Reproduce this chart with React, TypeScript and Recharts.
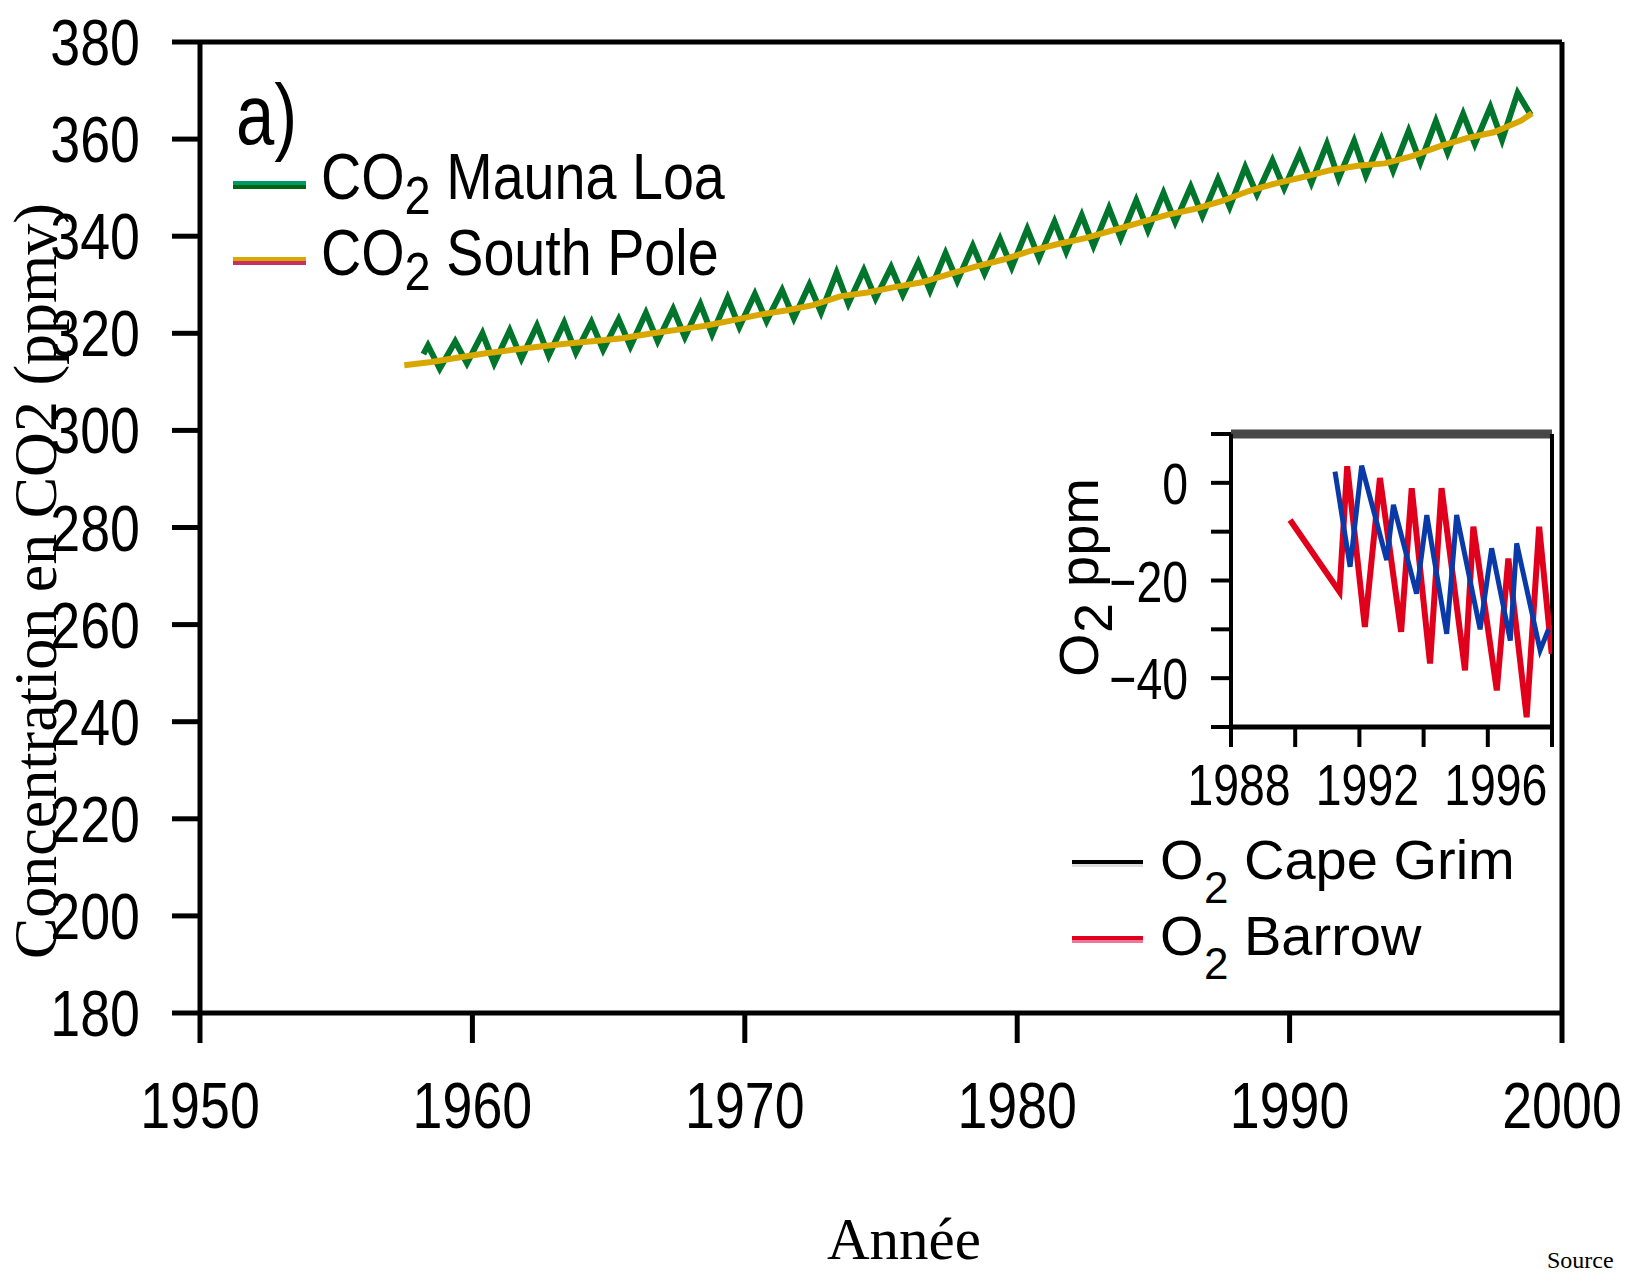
import React from 'react';
import { LineChart, Line, XAxis, YAxis, ReferenceLine, Legend } from 'recharts';

// main panel axes
const mainYearTicks = [1950, 1960, 1970, 1980, 1990, 2000];
const mainCO2Ticks = [180, 200, 220, 240, 260, 280, 300, 320, 340, 360, 380];

// CO2 Mauna Loa, seasonal highs and lows (ppmv)
const maunaLoaYear = [
  1958.2, 1958.37, 1958.8, 1959.37, 1959.8, 1960.37, 1960.8, 1961.37, 1961.8, 1962.37, 1962.8,
  1963.37, 1963.8, 1964.37, 1964.8, 1965.37, 1965.8, 1966.37, 1966.8, 1967.37, 1967.8,
  1968.37, 1968.8, 1969.37, 1969.8, 1970.37, 1970.8, 1971.37, 1971.8, 1972.37, 1972.8,
  1973.37, 1973.8, 1974.37, 1974.8, 1975.37, 1975.8, 1976.37, 1976.8, 1977.37, 1977.8,
  1978.37, 1978.8, 1979.37, 1979.8, 1980.37, 1980.8, 1981.37, 1981.8, 1982.37, 1982.8,
  1983.37, 1983.8, 1984.37, 1984.8, 1985.37, 1985.8, 1986.37, 1986.8, 1987.37, 1987.8,
  1988.37, 1988.8, 1989.37, 1989.8, 1990.37, 1990.8, 1991.37, 1991.8, 1992.37, 1992.8,
  1993.37, 1993.8, 1994.37, 1994.8, 1995.37, 1995.8, 1996.37, 1996.8, 1997.37, 1997.8,
  1998.37, 1998.85,
];
const maunaLoaCO2 = [
  315.7, 317.5, 312.7, 318.3, 313.8, 320.0, 313.8, 320.6, 314.8, 321.6, 315.4,
  322.2, 316.0, 322.3, 316.6, 322.9, 317.3, 324.2, 318.4, 325.0, 319.2,
  326.0, 319.8, 327.3, 321.3, 328.1, 322.5, 328.9, 323.1, 330.0, 324.3,
  332.5, 326.1, 333.0, 327.2, 333.6, 327.9, 334.6, 328.8, 336.5, 330.8,
  338.0, 332.3, 339.4, 333.6, 341.5, 335.5, 343.0, 336.8, 344.3, 338.0,
  345.8, 339.6, 347.4, 341.2, 348.9, 342.9, 350.2, 344.2, 351.8, 346.0,
  354.2, 348.6, 355.6, 349.9, 357.1, 351.0, 359.0, 351.9, 359.6, 352.5,
  360.0, 353.5, 361.7, 355.2, 363.7, 357.2, 365.2, 359.0, 366.6, 359.8,
  369.5, 365.0,
];

// CO2 South Pole (ppmv)
const southPoleYear = [
  1957.5, 1958.5, 1959.5, 1960.5, 1961.5, 1962.5, 1963.5, 1964.5, 1965.5, 1966.5, 1967.5,
  1968.5, 1969.5, 1970.5, 1971.5, 1972.5, 1973.5, 1974.5, 1975.5, 1976.5, 1977.5,
  1978.5, 1979.5, 1980.5, 1981.5, 1982.5, 1983.5, 1984.5, 1985.5, 1986.5, 1987.5,
  1988.5, 1989.5, 1990.5, 1991.5, 1992.5, 1993.5, 1994.5, 1995.5, 1996.5, 1997.5,
  1998.5, 1998.9,
];
const southPoleCO2 = [
  313.4, 314.1, 315.0, 315.9, 316.6, 317.3, 317.9, 318.4, 319.0, 319.9, 320.7,
  321.5, 322.6, 323.8, 324.7, 325.8, 327.6, 328.4, 329.5, 330.5, 332.2,
  333.8, 335.2, 337.0, 338.4, 339.6, 341.2, 342.8, 344.4, 345.6, 347.2,
  349.3, 350.9, 352.2, 353.6, 354.5, 355.0, 356.5, 358.5, 360.2, 361.4,
  363.8, 365.3,
];

// inset axes
const insetYearTicks = [1988, 1990, 1992, 1994, 1996, 1998];
const insetYearLabels = [1988, 1992, 1996];
const insetO2Ticks = [-50, -40, -30, -20, -10, 0, 10];
const insetO2Labels = [-40, -20, 0];

// O2 Cape Grim (ppm)
const capeGrimYear = [
  1991.24, 1991.71, 1992.07, 1992.85, 1993.06, 1993.78, 1994.1, 1994.72,
  1995.03, 1995.76, 1996.12, 1996.7, 1996.9, 1997.63, 1997.89,
];
const capeGrimO2 = [
  2.3, -17.2, 3.5, -15.8, -4.5, -22.7, -6.6, -30.9,
  -6.6, -30.0, -13.4, -32.3, -12.4, -34.3, -30.0,
];

// O2 Barrow (ppm)
const barrowYear = [
  1989.84, 1991.38, 1991.62, 1992.17, 1992.64, 1993.3, 1993.63, 1994.2,
  1994.56, 1995.29, 1995.55, 1996.28, 1996.64, 1997.21, 1997.6, 1997.99,
];
const barrowO2 = [
  -7.6, -22.3, 3.4, -29.5, 1.0, -30.5, -1.1, -37.0,
  -1.1, -38.4, -9.0, -42.5, -15.5, -48.0, -9.0, -35.0,
];

const SANS = '"Liberation Sans", Arial, Helvetica, sans-serif';
const SERIF = '"Liberation Serif", "Times New Roman", serif';

const zip = (xs: number[], ys: number[]) => xs.map((t, i) => ({ t, v: ys[i] }));

const maunaLoa = zip(maunaLoaYear, maunaLoaCO2);
const southPole = zip(southPoleYear, southPoleCO2);
const capeGrim = zip(capeGrimYear, capeGrimO2);
const barrow = zip(barrowYear, barrowO2);

const mainSeries = [
  { name: 'Mauna Loa', color: '#009966', edge: '#006414' },
  { name: 'South Pole', color: '#d9a800', edge: '#c8305f' },
];
const insetSeries = [
  { name: 'Cape Grim', color: '#000000', edge: '#dddddd' },
  { name: 'Barrow', color: '#e0001b', edge: '#ee7799' },
];

type TickOpts = { size: number; sx: number; anchor: 'start' | 'middle' | 'end'; dx: number; dy: number; show?: number[] };

// narrow helvetica-like tick labels
const squashTick = (o: TickOpts) => (props: any) => {
  const { x, y, payload } = props;
  const v = payload.value;
  if (o.show && !o.show.includes(v)) return <g />;
  const label = v < 0 ? `\u2212${-v}` : `${v}`;
  return (
    <g transform={`translate(${x + o.dx},${y + o.dy})`}>
      <text transform={`scale(${o.sx},1)`} textAnchor={o.anchor} fontSize={o.size} fontFamily={SANS} fill="#000">
        {label}
      </text>
    </g>
  );
};

// legend box of the main panel sits at page (0, 40)
const MainLegend = () => (
  <svg width={780} height={300} style={{ display: 'block' }}>
    <text transform="translate(236,104) scale(0.8,1)" fontFamily={SANS} fontSize={86} fill="#000">a)</text>
    {mainSeries.map((s, i) => (
      <g key={s.name} transform={`translate(0,${i * 76})`}>
        <rect x={233} y={141} width={73} height={4} fill={s.color} />
        <rect x={233} y={145} width={73} height={4} fill={s.edge} />
        <g transform="translate(321,159) scale(0.87,1)">
          <text x={0} y={0} fontFamily={SANS} fontSize={64} fill="#000">CO</text>
          <text x={96} y={15} fontFamily={SANS} fontSize={54} fill="#000">2</text>
          <text x={144} y={0} fontFamily={SANS} fontSize={64} fill="#000">{s.name}</text>
        </g>
      </g>
    ))}
  </svg>
);

// legend box of the inset sits at page (1040, 800)
const InsetLegend = () => (
  <svg width={560} height={240} style={{ display: 'block' }}>
    {insetSeries.map((s, i) => (
      <g key={s.name} transform={`translate(0,${i * 76})`}>
        <rect x={32} y={60} width={71} height={4} fill={s.color} />
        <rect x={32} y={64} width={71} height={3} fill={s.edge} />
        <text x={120} y={79} fontFamily={SANS} fontSize={56} fill="#000">O</text>
        <text x={164} y={103} fontFamily={SANS} fontSize={44} fill="#000">2</text>
        <text x={204} y={79} fontFamily={SANS} fontSize={56} fill="#000">{s.name}</text>
      </g>
    ))}
  </svg>
);

const black5 = { stroke: '#000', strokeWidth: 5 };
const black4 = { stroke: '#000', strokeWidth: 4 };

export default function App() {
  return (
    <div style={{ position: 'absolute', left: 0, top: 0, width: 1626, height: 1274, overflow: 'hidden', background: '#fff' }}>
      <div style={{ position: 'absolute', left: 0, top: 0 }}>
        <LineChart width={1626} height={1274} margin={{ top: 42, right: 64, bottom: 161, left: 0 }}>
          <XAxis
            dataKey="t"
            type="number"
            domain={[1950, 2000]}
            ticks={mainYearTicks}
            interval={0}
            allowDataOverflow
            height={100}
            tickSize={30}
            tickMargin={8}
            axisLine={black5}
            tickLine={black5}
            tick={squashTick({ size: 64, sx: 0.84, anchor: 'middle', dx: 0, dy: 77 })}
          />
          <YAxis
            type="number"
            domain={[180, 380]}
            ticks={mainCO2Ticks}
            interval={0}
            allowDataOverflow
            width={200}
            tickSize={28}
            tickMargin={32}
            axisLine={black5}
            tickLine={black5}
            tick={squashTick({ size: 64, sx: 0.84, anchor: 'end', dx: 0, dy: 23 })}
          />
          <ReferenceLine y={380} stroke="#000" strokeWidth={5} />
          <ReferenceLine x={2000} stroke="#000" strokeWidth={5} />
          <Line data={maunaLoa} dataKey="v" name="CO2 Mauna Loa" type="linear" stroke="#00752b" strokeWidth={6} dot={false} activeDot={false} isAnimationActive={false} />
          <Line data={southPole} dataKey="v" name="CO2 South Pole" type="linear" stroke="#d9a800" strokeWidth={6} dot={false} activeDot={false} isAnimationActive={false} />
          <Legend
            layout="vertical"
            align="center"
            verticalAlign="middle"
            wrapperStyle={{ position: 'absolute', left: 0, top: 40, width: 780, height: 300 }}
            content={() => <MainLegend />}
          />
        </LineChart>
      </div>

      <div style={{ position: 'absolute', left: 1040, top: 400 }}>
        <LineChart width={560} height={660} margin={{ top: 34, right: 48, bottom: 273, left: 0 }}>
          <XAxis
            dataKey="t"
            type="number"
            domain={[1988, 1998]}
            ticks={insetYearTicks}
            interval={0}
            allowDataOverflow
            height={60}
            tickSize={20}
            tickMargin={8}
            axisLine={black5}
            tickLine={black4}
            tick={squashTick({ size: 58, sx: 0.8, anchor: 'middle', dx: 8, dy: 50, show: insetYearLabels })}
          />
          <YAxis
            type="number"
            domain={[-50, 10]}
            ticks={insetO2Ticks}
            interval={0}
            allowDataOverflow
            width={191}
            tickSize={20}
            tickMargin={23}
            axisLine={black4}
            tickLine={black4}
            tick={squashTick({ size: 58, sx: 0.8, anchor: 'end', dx: 0, dy: 21, show: insetO2Labels })}
          />
          <ReferenceLine y={10} stroke="#474747" strokeWidth={9} />
          <ReferenceLine x={1998} stroke="#000" strokeWidth={4} />
          <Line data={barrow} dataKey="v" name="O2 Barrow" type="linear" stroke="#e0001b" strokeWidth={6} dot={false} activeDot={false} isAnimationActive={false} />
          <Line data={capeGrim} dataKey="v" name="O2 Cape Grim" type="linear" stroke="#0a3aa8" strokeWidth={5} dot={false} activeDot={false} isAnimationActive={false} />
          <Legend
            layout="vertical"
            align="center"
            verticalAlign="middle"
            wrapperStyle={{ position: 'absolute', left: 0, top: 400, width: 560, height: 240 }}
            content={() => <InsetLegend />}
          />
        </LineChart>
      </div>

      <svg width={1626} height={1274} style={{ position: 'absolute', left: 0, top: 0, pointerEvents: 'none' }}>
        <text transform="translate(56,959) rotate(-90)" fontFamily={SERIF} fontSize={62} fill="#000">
          Concentration en CO2 (ppmv)
        </text>
        <g transform="translate(1098,677) rotate(-90)">
          <text x={0} y={0} fontFamily={SANS} fontSize={56} fill="#000">O</text>
          <text x={44} y={14} fontFamily={SANS} fontSize={54} fill="#000">2</text>
          <text x={90} y={0} fontFamily={SANS} fontSize={56} fill="#000">ppm</text>
        </g>
        <text x={904} y={1259} textAnchor="middle" fontFamily={SERIF} fontSize={59} fill="#000">Année</text>
        <text x={1547} y={1268} fontFamily={SERIF} fontSize={24} fill="#000">Source</text>
      </svg>
    </div>
  );
}
